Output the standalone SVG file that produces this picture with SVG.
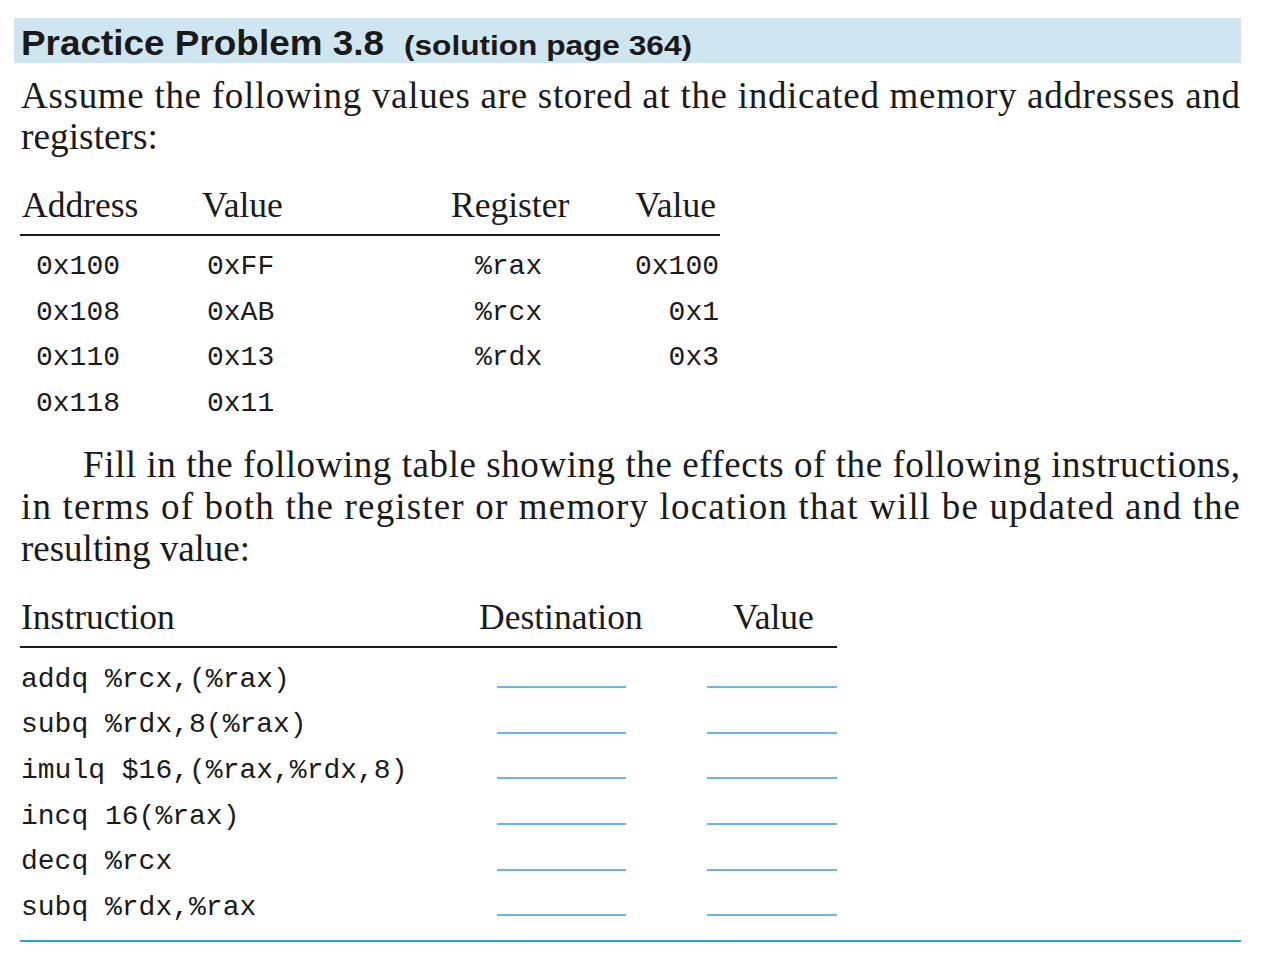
<svg xmlns="http://www.w3.org/2000/svg" width="1262" height="964" viewBox="0 0 1262 964">
<style>
.title{font-family:"Liberation Sans","Open Sans",sans-serif;font-weight:bold;fill:#1a1a1a}
.body{font-family:"Liberation Serif","DejaVu Serif",serif;font-size:37px;fill:#1a1a1a}
.head{font-family:"Liberation Serif","DejaVu Serif",serif;font-size:35.5px;fill:#1a1a1a}
.mono{font-family:"Liberation Mono","DejaVu Sans Mono",monospace;font-size:28px;fill:#1a1a1a}
.rule{stroke:#1a1a1a;stroke-width:2}
.blank{stroke:#6cb6dd;stroke-width:2}
</style>
<rect width="1262" height="964" fill="#ffffff"/>
<g id="header">
<rect x="14" y="18" width="1227" height="45" fill="#cfe5ef"/>
<text class="title" x="21" y="55" font-size="35" textLength="363" lengthAdjust="spacingAndGlyphs">Practice Problem 3.8</text>
<text class="title" x="404" y="55" font-size="28" textLength="288" lengthAdjust="spacingAndGlyphs">(solution page 364)</text>
</g>
<g id="intro">
<text class="body" x="21" y="108" textLength="1219" lengthAdjust="spacing">Assume the following values are stored at the indicated memory addresses and</text>
<text class="body" x="21" y="149" textLength="137" lengthAdjust="spacingAndGlyphs">registers:</text>
</g>
<g id="table1">
<text class="head" x="22" y="217">Address</text>
<text class="head" x="202" y="217">Value</text>
<text class="head" x="451" y="217">Register</text>
<text class="head" x="716" y="217" text-anchor="end">Value</text>
<line class="rule" x1="20" y1="235" x2="720" y2="235"/>
<text class="mono" x="36" y="274">0x100</text>
<text class="mono" x="207" y="274">0xFF</text>
<text class="mono" x="475" y="274">%rax</text>
<text class="mono" x="719" y="274" text-anchor="end">0x100</text>
<text class="mono" x="36" y="320">0x108</text>
<text class="mono" x="207" y="320">0xAB</text>
<text class="mono" x="475" y="320">%rcx</text>
<text class="mono" x="719" y="320" text-anchor="end">0x1</text>
<text class="mono" x="36" y="365">0x110</text>
<text class="mono" x="207" y="365">0x13</text>
<text class="mono" x="475" y="365">%rdx</text>
<text class="mono" x="719" y="365" text-anchor="end">0x3</text>
<text class="mono" x="36" y="411">0x118</text>
<text class="mono" x="207" y="411">0x11</text>
</g>
<g id="para2">
<text class="body" x="83" y="477" textLength="1157" lengthAdjust="spacing">Fill in the following table showing the effects of the following instructions,</text>
<text class="body" x="21" y="519" textLength="1219" lengthAdjust="spacing">in terms of both the register or memory location that will be updated and the</text>
<text class="body" x="21" y="561" textLength="229" lengthAdjust="spacingAndGlyphs">resulting value:</text>
</g>
<g id="table2">
<text class="head" x="21" y="629">Instruction</text>
<text class="head" x="479" y="629">Destination</text>
<text class="head" x="733" y="629">Value</text>
<line class="rule" x1="20" y1="647" x2="837" y2="647"/>
<text class="mono" x="21" y="687">addq %rcx,(%rax)</text>
<text class="mono" x="21" y="732">subq %rdx,8(%rax)</text>
<text class="mono" x="21" y="778">imulq $16,(%rax,%rdx,8)</text>
<text class="mono" x="21" y="824">incq 16(%rax)</text>
<text class="mono" x="21" y="869">decq %rcx</text>
<text class="mono" x="21" y="915">subq %rdx,%rax</text>
</g>
<g id="blanks">
<line class="blank" x1="497" y1="687" x2="626" y2="687"/>
<line class="blank" x1="707" y1="687" x2="837" y2="687"/>
<line class="blank" x1="497" y1="733" x2="626" y2="733"/>
<line class="blank" x1="707" y1="733" x2="837" y2="733"/>
<line class="blank" x1="497" y1="778" x2="626" y2="778"/>
<line class="blank" x1="707" y1="778" x2="837" y2="778"/>
<line class="blank" x1="497" y1="824" x2="626" y2="824"/>
<line class="blank" x1="707" y1="824" x2="837" y2="824"/>
<line class="blank" x1="497" y1="870" x2="626" y2="870"/>
<line class="blank" x1="707" y1="870" x2="837" y2="870"/>
<line class="blank" x1="497" y1="915" x2="626" y2="915"/>
<line class="blank" x1="707" y1="915" x2="837" y2="915"/>
<line x1="20" y1="941" x2="1241" y2="941" stroke="#2f9fd4" stroke-width="2"/>
</g>
</svg>
